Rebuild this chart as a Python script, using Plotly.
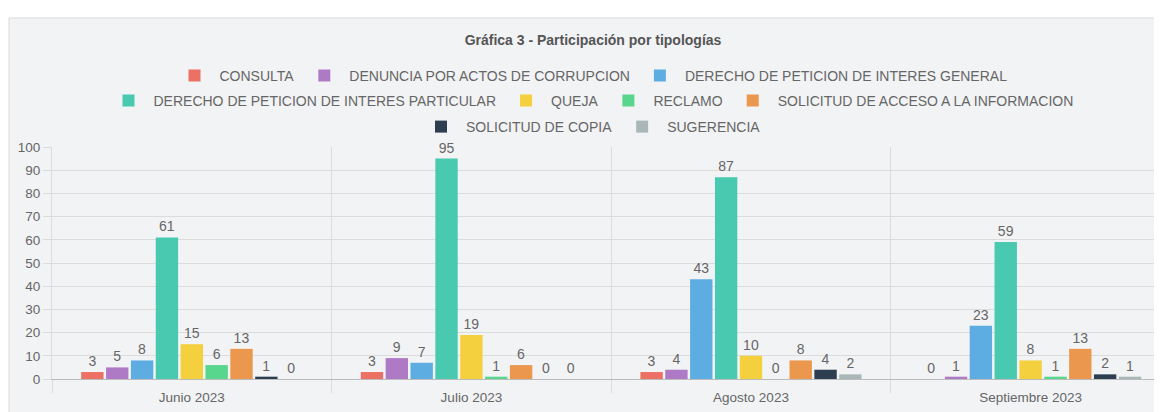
import plotly.graph_objects as go

months = ["Junio 2023", "Julio 2023", "Agosto 2023", "Septiembre 2023"]
series_names = [
    "CONSULTA",
    "DENUNCIA POR ACTOS DE CORRUPCION",
    "DERECHO DE PETICION DE INTERES GENERAL",
    "DERECHO DE PETICION DE INTERES PARTICULAR",
    "QUEJA",
    "RECLAMO",
    "SOLICITUD DE ACCESO A LA INFORMACION",
    "SOLICITUD DE COPIA",
    "SUGERENCIA",
]
consulta = [3, 3, 3, 0]
denuncia = [5, 9, 4, 1]
peticion_general = [8, 7, 43, 23]
peticion_particular = [61, 95, 87, 59]
queja = [15, 19, 10, 8]
reclamo = [6, 1, 0, 1]
solicitud_info = [13, 6, 8, 13]
solicitud_copia = [1, 0, 4, 2]
sugerencia = [0, 0, 2, 1]
series_values = [consulta, denuncia, peticion_general, peticion_particular,
                 queja, reclamo, solicitud_info, solicitud_copia, sugerencia]
colors = ["#ec7063", "#af7ac5", "#5dade2", "#48c9b0", "#f4d03f",
          "#58d68d", "#eb984e", "#2c3e50", "#aab7b8"]
legend_rows = ["legend", "legend", "legend", "legend2", "legend2", "legend2",
               "legend2", "legend3", "legend3"]

# page body has an 8px margin, so the figure is offset by 8px
OFF = 8
W, H = 1162 - OFF, 412 - OFF
ml, mr = 52 - OFF, 0
mt = 147 - OFF
mb = H - (379 - OFF)
pw = W - ml - mr
ph = H - mt - mb

def py(ref_pix):
    return (H - mb - (ref_pix - OFF)) / ph

def px(ref_pix):
    return ((ref_pix - OFF) - ml) / pw

font_family = "Liberation Sans, Arial, Helvetica, sans-serif"

fig = go.Figure()
for name, vals, col, lg in zip(series_names, series_values, colors, legend_rows):
    fig.add_trace(go.Bar(
        x=months, y=vals, name=name, legend=lg,
        marker=dict(color=col, line=dict(width=0)),
        text=[str(v) for v in vals], textposition="outside",
        textfont=dict(color="#666666", size=14, family=font_family),
        cliponaxis=False,
    ))

legend_common = dict(orientation="h", xanchor="center", yanchor="middle",
                     x=px(591), bgcolor="rgba(0,0,0,0)",
                     font=dict(size=14, color="#666666", family=font_family),
                     itemwidth=40, tracegroupgap=0)

fig.update_layout(
    width=W, height=H,
    margin=dict(l=ml, r=mr, t=mt, b=mb),
    paper_bgcolor="white",
    plot_bgcolor="rgba(0,0,0,0)",
    barmode="group", bargap=0.2, bargroupgap=0.1,
    font=dict(family=font_family, color="#666666", size=13.5),
    title=dict(text="<b>Gráfica 3 - Participación por tipologías</b>",
               x=(593 - OFF) / W, xanchor="center",
               y=1 - (40 - OFF) / H, yanchor="middle",
               font=dict(size=14, color="#555555", family=font_family)),
    legend=dict(**legend_common, y=py(76)),
    legend2=dict(**legend_common, y=py(101)),
    legend3=dict(**legend_common, y=py(127)),
    xaxis=dict(type="category", range=[-0.5, 3.47], tickson="boundaries",
               showgrid=True, gridcolor="#dcdcdc", ticks="outside", ticklen=13,
               tickcolor="#dcdcdc", showline=True, linecolor="#bbbbbb",
               ticklabelstandoff=6,
               tickfont=dict(size=13.5, color="#666666"), zeroline=False),
    yaxis=dict(range=[0, 100], dtick=10, showgrid=True, gridcolor="#dcdcdc",
               ticks="outside", ticklen=8, tickcolor="#dcdcdc",
               showline=True, linecolor="#dcdcdc",
               zeroline=False, tickfont=dict(size=13.5, color="#666666")),
    shapes=[dict(type="rect", xref="paper", yref="paper", layer="below",
                 x0=px(9), x1=px(1180), y0=py(450), y1=py(18),
                 fillcolor="#f2f3f5", line=dict(color="#d9d9d9", width=1))],
)

fig.write_html("out.html")
